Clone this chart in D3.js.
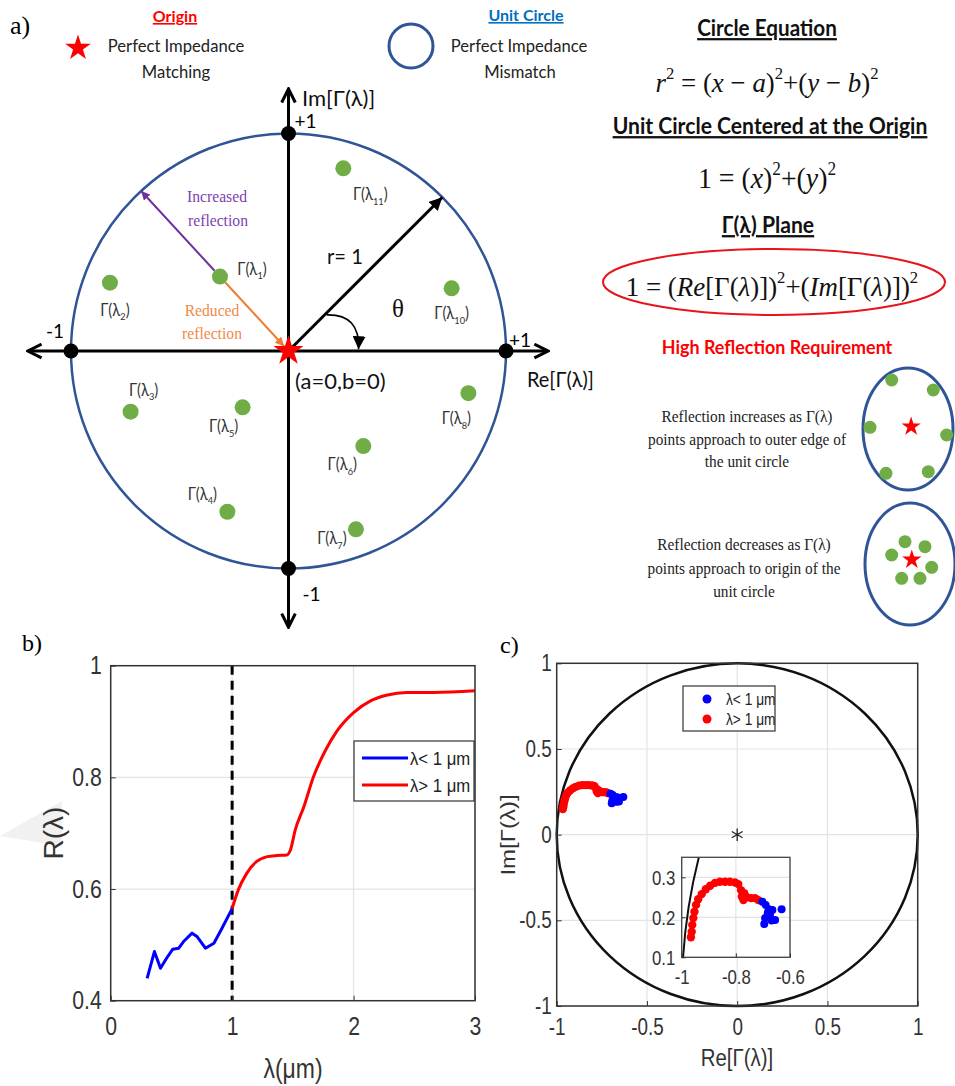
<!DOCTYPE html>
<html>
<head>
<meta charset="utf-8">
<script src="https://cdn.jsdelivr.net/npm/d3@7"></script>
<style>
  body { margin: 0; background: #fff; }
  svg { display: block; }
</style>
</head>
<body>
<div id="fig"></div>
<script>
// ---- panel a: reflection points on the unit circle ----
var gammaIds = ["1", "2", "11", "10", "3", "5", "8", "6", "4", "7"];
var gammaRe = [-0.315, -0.821, 0.252, 0.750, -0.726, -0.211, 0.827, 0.344, -0.281, 0.310];
var gammaIm = [0.342, 0.314, 0.840, 0.288, -0.279, -0.259, -0.194, -0.437, -0.739, -0.820];
// label placement (px, relative to each point)
var gammaLabelDx = [32, 5, 27, 0, 13, -19, -12, -21, -25, -24];
var gammaLabelDy = [-2, 33, 32, 31, -16, 25, 31, 24, -12, 15];

// small sketches on the right
var outerRe = [-0.362, 0.562, -0.844, 0.859, -0.489, 0.451];
var outerIm = [0.803, 0.639, 0.028, -0.098, -0.726, -0.700];
var innerRe = [-0.111, 0.333, -0.407, 0.482, -0.185, 0.222];
var innerIm = [0.366, 0.284, 0.148, -0.054, -0.235, -0.235];

// ---- panel b: R(lambda) ----
var lambdaBlue = [0.30, 0.36, 0.41, 0.46, 0.51, 0.56, 0.60, 0.67, 0.71, 0.78, 0.85, 0.91, 1.00];
var rBlue = [0.440, 0.488, 0.458, 0.476, 0.492, 0.494, 0.506, 0.521, 0.515, 0.494, 0.503, 0.527, 0.565];
var lambdaRed = [1.00, 1.05, 1.12, 1.20, 1.29, 1.37, 1.45, 1.48, 1.52, 1.59, 1.67, 1.77, 1.86, 2.00, 2.14, 2.27, 2.44, 2.66, 3.00];
var rRed = [0.565, 0.598, 0.628, 0.649, 0.658, 0.660, 0.661, 0.670, 0.706, 0.747, 0.801, 0.849, 0.882, 0.916, 0.937, 0.947, 0.952, 0.952, 0.955];
var bTicksX = [0, 1, 2, 3];
var bTicksY = [0.4, 0.6, 0.8, 1];

// ---- panel c: Gamma plane ----
var reRed = [-0.966, -0.963, -0.961, -0.957, -0.953, -0.947, -0.939, -0.926, -0.911, -0.895, -0.877, -0.859, -0.840, -0.822, -0.803, -0.791, -0.781, -0.778, -0.772, -0.769, -0.760, -0.744, -0.729, -0.717];
var imRed = [0.150, 0.164, 0.181, 0.198, 0.214, 0.231, 0.245, 0.258, 0.270, 0.279, 0.286, 0.289, 0.289, 0.289, 0.287, 0.283, 0.268, 0.252, 0.243, 0.260, 0.250, 0.248, 0.248, 0.243];
var reBlue = [-0.702, -0.690, -0.678, -0.665, -0.674, -0.692, -0.695, -0.668, -0.655, -0.631, -0.682];
var imBlue = [0.239, 0.231, 0.220, 0.218, 0.206, 0.198, 0.183, 0.192, 0.193, 0.220, 0.212];
var cTicks = [-1, -0.5, 0, 0.5, 1];
var insetTicksX = [-1, -0.8, -0.6];
var insetTicksY = [0.1, 0.2, 0.3];

var legendLabels = ["λ< 1 μm", "λ> 1 μm"];

var SANS = "Lato, 'Open Sans', sans-serif";
var ARIAL = "'Liberation Sans', Arial, sans-serif";
var SERIF = "'Liberation Serif', 'Times New Roman', serif";
var NAVY = "#2F5597", GREEN = "#70AD47";

var svg = d3.select("#fig").append("svg")
    .attr("width", 955)
    .attr("height", 1086);

var defs = svg.append("defs");

function arrowMarker(id, color, size, open) {
    var m = defs.append("marker")
        .attr("id", id)
        .attr("viewBox", "0 0 10 10")
        .attr("refX", open ? 9 : 10)
        .attr("refY", 5)
        .attr("markerUnits", "userSpaceOnUse")
        .attr("markerWidth", size)
        .attr("markerHeight", size)
        .attr("orient", "auto");
    if (open) {
        m.append("path").attr("d", "M1,1 L9,5 L1,9")
            .attr("fill", "none").attr("stroke", color).attr("stroke-width", 1.8);
    } else {
        m.append("path").attr("d", "M0,0 L10,5 L0,10 z").attr("fill", color);
    }
}
arrowMarker("axisHead", "#000", 17, true);
arrowMarker("blackHead", "#000", 13, false);
arrowMarker("purpleHead", "#7030A0", 9, false);
arrowMarker("orangeHead", "#ED7D31", 9, false);

// text made of pieces: [text, "i" italic | "sup" | "sub"]
function rich(sel, parts, size) {
    var shift = 0;
    parts.forEach(function (p) {
        var target = p[1] === "sup" ? -0.45 * size : p[1] === "sub" ? 0.28 * size : 0;
        sel.append("tspan")
            .attr("dy", target - shift)
            .style("font-style", p[1] === "i" ? "italic" : null)
            .style("font-size", (p[1] === "sup" || p[1] === "sub") ? (size * 0.62) + "px" : null)
            .text(p[0]);
        shift = target;
    });
}

// opts.sx squeezes glyphs horizontally (the source figure is slightly stretched vertically)
function addText(x, y, str, size, opts) {
    opts = opts || {};
    var t = svg.append("text")
        .attr("text-anchor", opts.anchor || "middle")
        .style("font-family", opts.family || SANS)
        .style("font-size", size + "px")
        .style("font-weight", opts.bold ? "bold" : null)
        .style("text-decoration", opts.underline ? "underline" : null)
        .attr("fill", opts.color || "#222")
        .text(str);
    if (opts.sx) t.attr("transform", "translate(" + x + "," + y + ") scale(" + opts.sx + ",1)");
    else t.attr("x", x).attr("y", y);
    return t;
}

var star = d3.symbol().type(d3.symbolStar);

// ================= panel a =================
addText(10, 34, "a)", 26, { anchor: "start", family: SERIF, color: "#000" });

// legend: origin star / unit circle
svg.append("path").attr("d", star.size(205)()).attr("transform", "translate(78,48)").attr("fill", "#FF0000");
addText(175, 22, "Origin", 16, { bold: true, underline: true, color: "#FF0000" });
addText(176, 52, "Perfect Impedance", 17.5, { sx: 0.95 });
addText(176, 78, "Matching", 17.5, { sx: 0.95 });

svg.append("circle").attr("cx", 411).attr("cy", 46).attr("r", 22)
    .attr("fill", "none").attr("stroke", NAVY).attr("stroke-width", 3);
addText(526, 21, "Unit Circle", 16, { bold: true, underline: true, color: "#0070C0" });
addText(519, 52, "Perfect Impedance", 17.5, { sx: 0.95 });
addText(520, 78, "Mismatch", 17.5, { sx: 0.95 });

var ax = d3.scaleLinear().domain([-1, 1]).range([71, 506]);
var ay = d3.scaleLinear().domain([-1, 1]).range([568.5, 133.5]);

svg.append("ellipse")
    .attr("cx", ax(0)).attr("cy", ay(0))
    .attr("rx", ax(1) - ax(0)).attr("ry", ay(-1) - ay(0))
    .attr("fill", "none").attr("stroke", NAVY).attr("stroke-width", 2.5);

// axes with arrow heads on both ends
[[-1.198, 1.193, 0, 0], [0, 0, -1.27, 1.205]].forEach(function (a) {
    var g = svg.append("g");
    g.append("line")
        .attr("x1", ax(0.5 * (a[0] + a[1]))).attr("y1", ay(0.5 * (a[2] + a[3])))
        .attr("x2", ax(a[0])).attr("y2", ay(a[2]))
        .attr("stroke", "#000").attr("stroke-width", 3).attr("marker-end", "url(#axisHead)");
    g.append("line")
        .attr("x1", ax(0.5 * (a[0] + a[1]))).attr("y1", ay(0.5 * (a[2] + a[3])))
        .attr("x2", ax(a[1])).attr("y2", ay(a[3]))
        .attr("stroke", "#000").attr("stroke-width", 3).attr("marker-end", "url(#axisHead)");
});

// r = 1 arrow
svg.append("line")
    .attr("x1", ax(0)).attr("y1", ay(0))
    .attr("x2", ax(Math.SQRT1_2)).attr("y2", ay(Math.SQRT1_2))
    .attr("stroke", "#000").attr("stroke-width", 3).attr("marker-end", "url(#blackHead)");
addText(327, 264, "r= 1", 22, { anchor: "start", color: "#111", sx: 0.92 });

// theta arc
svg.append("path")
    .attr("d", "M" + ax(0.176) + "," + ay(0.166) + " Q" + ax(0.33) + "," + ay(0.17) + " " + ax(0.322) + "," + ay(0.008))
    .attr("fill", "none").attr("stroke", "#000").attr("stroke-width", 1.6)
    .attr("marker-end", "url(#blackHead)");
addText(398, 317, "θ", 25, { family: SERIF, color: "#111" });

// increased / reduced reflection arrows from Gamma(lambda_1)
var g1 = [gammaRe[0], gammaIm[0]];
var ang = Math.atan2(g1[1], g1[0]);
var dotR = 8 / 217.5;
svg.append("line")
    .attr("x1", ax(g1[0] + dotR * Math.cos(ang))).attr("y1", ay(g1[1] + dotR * Math.sin(ang)))
    .attr("x2", ax(Math.cos(ang))).attr("y2", ay(Math.sin(ang)))
    .attr("stroke", "#7030A0").attr("stroke-width", 2).attr("marker-end", "url(#purpleHead)");
svg.append("line")
    .attr("x1", ax(g1[0] - dotR * Math.cos(ang))).attr("y1", ay(g1[1] - dotR * Math.sin(ang)))
    .attr("x2", ax(0.03 * Math.cos(ang))).attr("y2", ay(0.03 * Math.sin(ang)))
    .attr("stroke", "#ED7D31").attr("stroke-width", 2).attr("marker-end", "url(#orangeHead)");
addText(217, 202, "Increased", 17, { family: SERIF, color: "#7E3FB0", sx: 0.92 });
addText(218, 226, "reflection", 17, { family: SERIF, color: "#7E3FB0", sx: 0.92 });
addText(212, 316, "Reduced", 17, { family: SERIF, color: "#F08a48", sx: 0.92 });
addText(212, 339, "reflection", 17, { family: SERIF, color: "#F08a48", sx: 0.92 });

// black dots at +-1
var axisPts = [[-1, 0], [1, 0], [0, 1], [0, -1]];
svg.append("g").selectAll("circle").data(axisPts).enter().append("circle")
    .attr("cx", function (d) { return ax(d[0]); })
    .attr("cy", function (d) { return ay(d[1]); })
    .attr("r", 7.5).attr("fill", "#000");

addText(ax(-1) - 7, ay(0) - 13, "-1", 19, { anchor: "end", color: "#000" });
addText(ax(1) + 3, ay(0) - 4, "+1", 19, { anchor: "start", color: "#000" });
addText(ax(0) + 6, ay(1) - 6, "+1", 19, { anchor: "start", color: "#000" });
addText(ax(0) + 14, ay(-1) + 32, "-1", 19, { anchor: "start", color: "#000" });

addText(302, 106, "Im[Γ(λ)]", 22, { anchor: "start", color: "#111" });
addText(527, 387, "Re[Γ(λ)]", 21, { anchor: "start", color: "#111", sx: 0.95 });
addText(295, 389, "(a=0,b=0)", 22, { anchor: "start", color: "#111" });

// green reflection points
svg.append("g").selectAll("circle").data(gammaIds).enter().append("circle")
    .attr("cx", function (d, i) { return ax(gammaRe[i]); })
    .attr("cy", function (d, i) { return ay(gammaIm[i]); })
    .attr("r", 8).attr("fill", GREEN);

gammaIds.forEach(function (id, i) {
    var t = addText(ax(gammaRe[i]) + gammaLabelDx[i], ay(gammaIm[i]) + gammaLabelDy[i], null, 16.5, { color: "#333", sx: 0.9 });
    rich(t, [["Γ(λ", ""], [id, "sub"], [")", ""]], 16.5);
});

// origin star
svg.append("path").attr("d", star.size(280)())
    .attr("transform", "translate(" + ax(0) + "," + ay(0) + ")")
    .attr("fill", "#FF0000");

// ================= right-hand notes =================
addText(767, 36, "Circle Equation", 22.5, { bold: true, underline: true, color: "#111", sx: 0.92 });
rich(addText(767, 92, null, 28, { family: SERIF, color: "#111", sx: 0.96 }),
    [["r", "i"], ["2", "sup"], [" = (", ""], ["x", "i"], [" − ", ""], ["a", "i"], [")", ""], ["2", "sup"],
     ["+(", ""], ["y", "i"], [" − ", ""], ["b", "i"], [")", ""], ["2", "sup"]], 28);
addText(770, 134, "Unit Circle Centered at the Origin", 23, { bold: true, underline: true, color: "#111", sx: 0.92 });
rich(addText(767, 188, null, 29, { family: SERIF, color: "#111", sx: 0.96 }),
    [["1 = (", ""], ["x", "i"], [")", ""], ["2", "sup"], ["+(", ""], ["y", "i"], [")", ""], ["2", "sup"]], 29);
addText(768, 233, "Γ(λ) Plane", 23, { bold: true, underline: true, color: "#111", sx: 0.92 });
svg.append("ellipse").attr("cx", 774).attr("cy", 282).attr("rx", 171).attr("ry", 33)
    .attr("fill", "none").attr("stroke", "#E8141B").attr("stroke-width", 2);
rich(addText(772, 296, null, 28, { family: SERIF, color: "#111", sx: 0.96 }),
    [["1 = (", ""], ["Re", "i"], ["[Γ(", ""], ["λ", "i"], [")])", ""], ["2", "sup"],
     ["+(", ""], ["Im", "i"], ["[Γ(", ""], ["λ", "i"], [")])", ""], ["2", "sup"]], 28);

addText(777, 354, "High Reflection Requirement", 19.5, { bold: true, color: "#FF0000", sx: 0.92 });

var noteLines1 = ["Reflection increases as Γ(λ)", "points approach to outer edge of", "the unit circle"];
var noteLines2 = ["Reflection decreases as Γ(λ)", "points approach to origin of the", "unit circle"];
noteLines1.forEach(function (s, i) { addText(747, 422 + i * 22.5, s, 16.5, { family: SERIF, color: "#222", sx: 0.93 }); });
noteLines2.forEach(function (s, i) { addText(744, 550 + i * 23.5, s, 16.5, { family: SERIF, color: "#222", sx: 0.93 }); });

function miniCircle(x0, x1, y0, y1, re, im, starPos) {
    var mx = d3.scaleLinear().domain([-1, 1]).range([x0, x1]);
    var my = d3.scaleLinear().domain([-1, 1]).range([y1, y0]);
    svg.append("ellipse").attr("cx", mx(0)).attr("cy", my(0))
        .attr("rx", mx(1) - mx(0)).attr("ry", my(-1) - my(0))
        .attr("fill", "none").attr("stroke", NAVY).attr("stroke-width", 3);
    svg.append("g").selectAll("circle").data(re).enter().append("circle")
        .attr("cx", function (d) { return mx(d); })
        .attr("cy", function (d, i) { return my(im[i]); })
        .attr("r", 6.5).attr("fill", GREEN);
    svg.append("path").attr("d", star.size(115)())
        .attr("transform", "translate(" + mx(starPos[0]) + "," + my(starPos[1]) + ")")
        .attr("fill", "#FF0000");
}
miniCircle(863, 953, 368, 490, outerRe, outerIm, [0.07, 0.04]);
miniCircle(865, 955, 503, 625, innerRe, innerIm, [0.04, 0.07]);

// ================= panel b =================
svg.append("polygon").attr("points", "0,836 62,801 62,846").attr("fill", "#f1f1f1");
addText(22, 651, "b)", 24, { anchor: "start", family: SERIF, color: "#000" });

var bx = d3.scaleLinear().domain([0, 3]).range([110.7, 475]);
var by = d3.scaleLinear().domain([0.4, 1]).range([1000.7, 665.7]);

var bPlot = svg.append("g");
bPlot.append("rect").attr("x", bx(0)).attr("y", by(1))
    .attr("width", bx(3) - bx(0)).attr("height", by(0.4) - by(1)).attr("fill", "#fff");
bPlot.selectAll(".gx").data(bTicksX).enter().append("line")
    .attr("x1", function (d) { return bx(d); }).attr("x2", function (d) { return bx(d); })
    .attr("y1", by(0.4)).attr("y2", by(1)).attr("stroke", "#e3e3e3").attr("stroke-width", 1.2);
bPlot.selectAll(".gy").data(bTicksY).enter().append("line")
    .attr("y1", function (d) { return by(d); }).attr("y2", function (d) { return by(d); })
    .attr("x1", bx(0)).attr("x2", bx(3)).attr("stroke", "#e3e3e3").attr("stroke-width", 1.2);

function styleAxis(g, size, sx) {
    g.select(".domain").remove();
    g.selectAll(".tick line").attr("stroke", "#333");
    g.selectAll(".tick text")
        .style("font-family", ARIAL).style("font-size", size + "px").attr("fill", "#333")
        .attr("transform", "scale(" + sx + ",1)");
}

svg.append("g").attr("transform", "translate(0," + by(0.4) + ")")
    .call(d3.axisBottom(bx).tickValues(bTicksX).tickSize(-5).tickPadding(17).tickFormat(String))
    .call(styleAxis, 25, 0.85);
svg.append("g").attr("transform", "translate(" + bx(0) + ",0)")
    .call(d3.axisLeft(by).tickValues(bTicksY).tickSize(-5).tickPadding(10.5).tickFormat(String))
    .call(styleAxis, 25, 0.85);

// dashed threshold at 1 um
bPlot.append("line").attr("x1", bx(1)).attr("x2", bx(1)).attr("y1", by(1)).attr("y2", by(0.4))
    .attr("stroke", "#000").attr("stroke-width", 3).attr("stroke-dasharray", "9,6");

var bLine = d3.line()
    .x(function (d) { return bx(d[0]); })
    .y(function (d) { return by(d[1]); });
bPlot.append("path").datum(lambdaBlue.map(function (l, i) { return [l, rBlue[i]]; }))
    .attr("fill", "none").attr("stroke", "#0000FF").attr("stroke-width", 3)
    .attr("stroke-linejoin", "round").attr("d", bLine);
bPlot.append("path").datum(lambdaRed.map(function (l, i) { return [l, rRed[i]]; }))
    .attr("fill", "none").attr("stroke", "#FF0000").attr("stroke-width", 3)
    .attr("stroke-linejoin", "round").attr("d", bLine.curve(d3.curveMonotoneX));

bPlot.append("rect").attr("x", bx(0)).attr("y", by(1))
    .attr("width", bx(3) - bx(0)).attr("height", by(0.4) - by(1))
    .attr("fill", "none").attr("stroke", "#333").attr("stroke-width", 1.5);

// legend b
var bLeg = svg.append("g").attr("transform", "translate(354,741)");
bLeg.append("rect").attr("width", 120).attr("height", 60)
    .attr("fill", "#fff").attr("stroke", "#333").attr("stroke-width", 1.2);
["#0000FF", "#FF0000"].forEach(function (c, i) {
    bLeg.append("line").attr("x1", 8).attr("x2", 54).attr("y1", 17 + i * 27).attr("y2", 17 + i * 27)
        .attr("stroke", c).attr("stroke-width", 3);
    bLeg.append("text").attr("transform", "translate(56," + (17 + i * 27) + ") scale(0.88,1)").attr("dy", "0.35em")
        .style("font-family", ARIAL).style("font-size", "19px").attr("fill", "#222")
        .text(legendLabels[i]);
});

addText(293, 1078, "λ(μm)", 27, { family: ARIAL, color: "#333", sx: 0.85 });
svg.append("text").attr("transform", "translate(53,833) rotate(-90)")
    .attr("text-anchor", "middle").attr("dy", "0.35em")
    .style("font-family", ARIAL).style("font-size", "28px").attr("fill", "#333")
    .text("R(λ)");

// ================= panel c =================
addText(500, 653, "c)", 24, { anchor: "start", family: SERIF, color: "#000" });

var cx = d3.scaleLinear().domain([-1, 1]).range([556.7, 917.7]);
var cy = d3.scaleLinear().domain([-1, 1]).range([1006, 663.3]);

var cPlot = svg.append("g");
cPlot.append("rect").attr("x", cx(-1)).attr("y", cy(1))
    .attr("width", cx(1) - cx(-1)).attr("height", cy(-1) - cy(1)).attr("fill", "#fff");
cPlot.selectAll(".gx").data(cTicks).enter().append("line")
    .attr("x1", function (d) { return cx(d); }).attr("x2", function (d) { return cx(d); })
    .attr("y1", cy(-1)).attr("y2", cy(1)).attr("stroke", "#e3e3e3").attr("stroke-width", 1.2);
cPlot.selectAll(".gy").data(cTicks).enter().append("line")
    .attr("y1", function (d) { return cy(d); }).attr("y2", function (d) { return cy(d); })
    .attr("x1", cx(-1)).attr("x2", cx(1)).attr("stroke", "#e3e3e3").attr("stroke-width", 1.2);

svg.append("g").attr("transform", "translate(0," + cy(-1) + ")")
    .call(d3.axisBottom(cx).tickValues(cTicks).tickSize(-5).tickPadding(13).tickFormat(String))
    .call(styleAxis, 23, 0.82);
svg.append("g").attr("transform", "translate(" + cx(-1) + ",0)")
    .call(d3.axisLeft(cy).tickValues(cTicks).tickSize(-5).tickPadding(6).tickFormat(String))
    .call(styleAxis, 23, 0.82);

cPlot.append("ellipse").attr("cx", cx(0)).attr("cy", cy(0))
    .attr("rx", cx(1) - cx(0)).attr("ry", cy(-1) - cy(0))
    .attr("fill", "none").attr("stroke", "#111").attr("stroke-width", 2.5);

cPlot.append("path").attr("d", d3.symbol().type(d3.symbolAsterisk).size(110)())
    .attr("transform", "translate(" + cx(0) + "," + cy(0) + ")")
    .attr("fill", "none").attr("stroke", "#222").attr("stroke-width", 1.3);

function scatter(g, sx, sy, re, im, color, r) {
    g.append("g").selectAll("circle").data(re).enter().append("circle")
        .attr("cx", function (d) { return sx(d); })
        .attr("cy", function (d, i) { return sy(im[i]); })
        .attr("r", r).attr("fill", color);
}
scatter(cPlot, cx, cy, reRed, imRed, "#FF0000", 4.2);
scatter(cPlot, cx, cy, reBlue, imBlue, "#0000FF", 4);

cPlot.append("rect").attr("x", cx(-1)).attr("y", cy(1))
    .attr("width", cx(1) - cx(-1)).attr("height", cy(-1) - cy(1))
    .attr("fill", "none").attr("stroke", "#333").attr("stroke-width", 1.5);

// legend c
var cLeg = svg.append("g").attr("transform", "translate(683,686)");
cLeg.append("rect").attr("width", 92).attr("height", 45)
    .attr("fill", "#fff").attr("stroke", "#333").attr("stroke-width", 1.2);
["#0000FF", "#FF0000"].forEach(function (c, i) {
    cLeg.append("circle").attr("cx", 24).attr("cy", 13 + i * 20).attr("r", 4.5).attr("fill", c);
    cLeg.append("text").attr("transform", "translate(43," + (13 + i * 20) + ") scale(0.86,1)").attr("dy", "0.35em")
        .style("font-family", ARIAL).style("font-size", "16px").attr("fill", "#222")
        .text(legendLabels[i]);
});

// inset zoom
var ix = d3.scaleLinear().domain([-1, -0.6]).range([681.7, 790]);
var iy = d3.scaleLinear().domain([0.1, 0.35]).range([957.3, 857.3]);
defs.append("clipPath").attr("id", "insetClip").append("rect")
    .attr("x", ix(-1)).attr("y", iy(0.35)).attr("width", ix(-0.6) - ix(-1)).attr("height", iy(0.1) - iy(0.35));

var inset = svg.append("g");
inset.append("rect").attr("x", ix(-1)).attr("y", iy(0.35))
    .attr("width", ix(-0.6) - ix(-1)).attr("height", iy(0.1) - iy(0.35)).attr("fill", "#fff");
inset.selectAll(".gx").data(insetTicksX).enter().append("line")
    .attr("x1", function (d) { return ix(d); }).attr("x2", function (d) { return ix(d); })
    .attr("y1", iy(0.1)).attr("y2", iy(0.35)).attr("stroke", "#e3e3e3").attr("stroke-width", 1.2);
inset.selectAll(".gy").data(insetTicksY).enter().append("line")
    .attr("y1", function (d) { return iy(d); }).attr("y2", function (d) { return iy(d); })
    .attr("x1", ix(-1)).attr("x2", ix(-0.6)).attr("stroke", "#e3e3e3").attr("stroke-width", 1.2);

var insetInner = inset.append("g").attr("clip-path", "url(#insetClip)");
insetInner.append("ellipse").attr("cx", ix(0)).attr("cy", iy(0))
    .attr("rx", ix(1) - ix(0)).attr("ry", iy(-1) - iy(0))
    .attr("fill", "none").attr("stroke", "#111").attr("stroke-width", 2);
scatter(insetInner, ix, iy, reRed, imRed, "#FF0000", 4.2);
scatter(insetInner, ix, iy, reBlue, imBlue, "#0000FF", 4);

inset.append("rect").attr("x", ix(-1)).attr("y", iy(0.35))
    .attr("width", ix(-0.6) - ix(-1)).attr("height", iy(0.1) - iy(0.35))
    .attr("fill", "none").attr("stroke", "#444").attr("stroke-width", 1.3);

svg.append("g").attr("transform", "translate(0," + iy(0.1) + ")")
    .call(d3.axisBottom(ix).tickValues(insetTicksX).tickSize(-4).tickPadding(12).tickFormat(String))
    .call(styleAxis, 21, 0.8);
svg.append("g").attr("transform", "translate(" + ix(-1) + ",0)")
    .call(d3.axisLeft(iy).tickValues(insetTicksY).tickSize(-4).tickPadding(8).tickFormat(String))
    .call(styleAxis, 21, 0.8);

// axis titles c
rich(addText(737, 1066, null, 24, { family: ARIAL, color: "#333", sx: 0.85 }),
    [["Re[", ""], ["Γ(λ)", ""], ["]", ""]], 24);
svg.append("text").attr("transform", "translate(508,835) rotate(-90) scale(1,0.85)")
    .attr("text-anchor", "middle").attr("dy", "0.35em")
    .style("font-family", ARIAL).style("font-size", "24px").attr("fill", "#333")
    .text("Im[Γ(λ)]");
</script>
</body>
</html>
